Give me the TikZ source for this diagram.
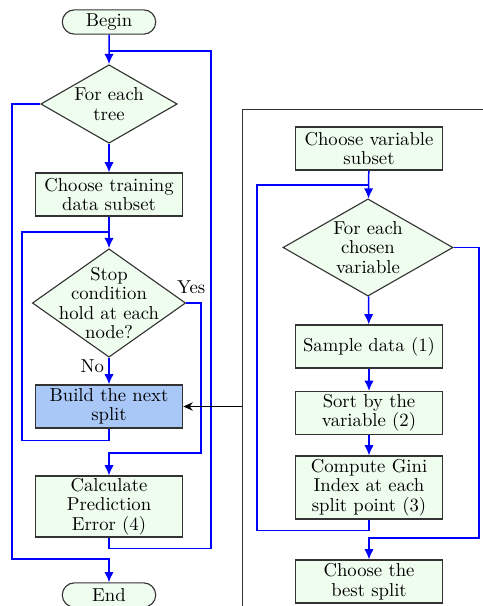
\documentclass[tikz,border=0pt]{standalone}
\usetikzlibrary{shapes.geometric,shapes.misc,arrows.meta,positioning}
\definecolor{boxgreen}{RGB}{239,253,239}
\definecolor{splitblue}{RGB}{169,199,247}
\begin{document}
\begin{tikzpicture}[x=0.535pt, y=-0.535pt,
    font=\fontsize{10}{10.4}\selectfont,
    terminal/.style={rounded rectangle, draw=black!80, line width=0.6pt, fill=boxgreen, minimum width=52pt, minimum height=13pt, inner sep=1pt},
    process/.style={rectangle, draw=black!80, line width=0.6pt, fill=boxgreen, align=center, minimum width=79pt, minimum height=23pt, inner sep=1pt},
    decision/.style={diamond, draw=black!80, line width=0.6pt, fill=boxgreen, inner sep=0pt},
    flow/.style={blue, line width=0.8pt, -{Latex[length=5.5pt,width=5pt]}},
    back/.style={blue, line width=0.8pt}]
  \useasboundingbox (0,0) rectangle (482,606);
  % outer loop over trees
  \node[terminal] (begin) at (109,22) {Begin};
  \node[decision, minimum width=73pt, minimum height=42pt, label={[align=center]center:For each\\tree}] (tree) at (109,104) {};
  \node[process] (train) at (109,194.5) {Choose training\\data subset};
  \node[decision, minimum width=82pt, minimum height=58pt, label={[align=center]center:Stop\\condition\\hold at each\\node?}] (stop) at (109,303) {};
  \node[process, fill=splitblue] (build) at (109,406.5) {Build the next\\split};
  \node[process, minimum height=32.6pt] (calc) at (109,506.5) {Calculate\\Prediction\\Error (4)};
  \node[terminal] (end) at (109,595) {End};
  \node[above=4pt of stop.east, xshift=2.7pt, inner sep=1pt] (yes) {Yes};
  \node[anchor=north east, inner sep=1pt, xshift=-1.5pt] (no) at (stop.south) {No};
  % the split, in detail
  \node[draw=black!80, line width=0.6pt, anchor=north west, minimum width=200pt, minimum height=320pt] (inner) at (242,109) {};
  \node[process] (varsub) at (369,148.5) {Choose variable\\subset};
  \node[decision, minimum width=91pt, minimum height=52pt, label={[align=center]center:For each\\chosen\\variable}] (chosen) at (368,247.5) {};
  \node[process] (sample) at (369,346.5) {Sample data (1)};
  \node[process] (sort) at (369,413) {Sort by the\\variable (2)};
  \node[process, minimum height=33.7pt] (gini) at (369,487.5) {Compute Gini\\Index at each\\split point (3)};
  \node[process] (best) at (369,581.5) {Choose the\\best split};
  % turning points of the loops
  \coordinate (treeback) at (211,51);
  \coordinate (treeout) at (12,559);
  \coordinate (splitback) at (22,232);
  \coordinate (yesturn) at (201,453);
  \coordinate (varback) at (257,185);
  \coordinate (varout) at (479,538);
  % left connectors
  \draw[flow] (begin) -- (tree);
  \draw[back] (calc.south) -- ++(0,11) -| (treeback) -- (treeback -| begin.south);
  \draw[flow] (tree.west) -| (treeout) -| (end.north);
  \draw[flow] (tree) -- (train);
  \draw[flow] (train) -- (stop);
  \draw[back] (build.south) -- ++(0,12) -| (splitback) -- (splitback -| train.south);
  \draw[flow] (stop) -- (build);
  \draw[flow] (stop.east) -| (yesturn) -| (calc.north);
  \draw[line width=0.6pt, -{Stealth[length=5pt,width=4.5pt]}] (inner.west |- build) -- (build);
  % right connectors
  \draw[flow] (varsub) -- (chosen);
  \draw[back] (gini.south) -- ++(0,11) -| (varback) -- (varback -| varsub.south);
  \draw[flow] (chosen) -- (sample);
  \draw[flow] (sample) -- (sort);
  \draw[flow] (sort) -- (gini);
  \draw[flow] (chosen.east) -| (varout) -| (best.north);
\end{tikzpicture}
\end{document}
